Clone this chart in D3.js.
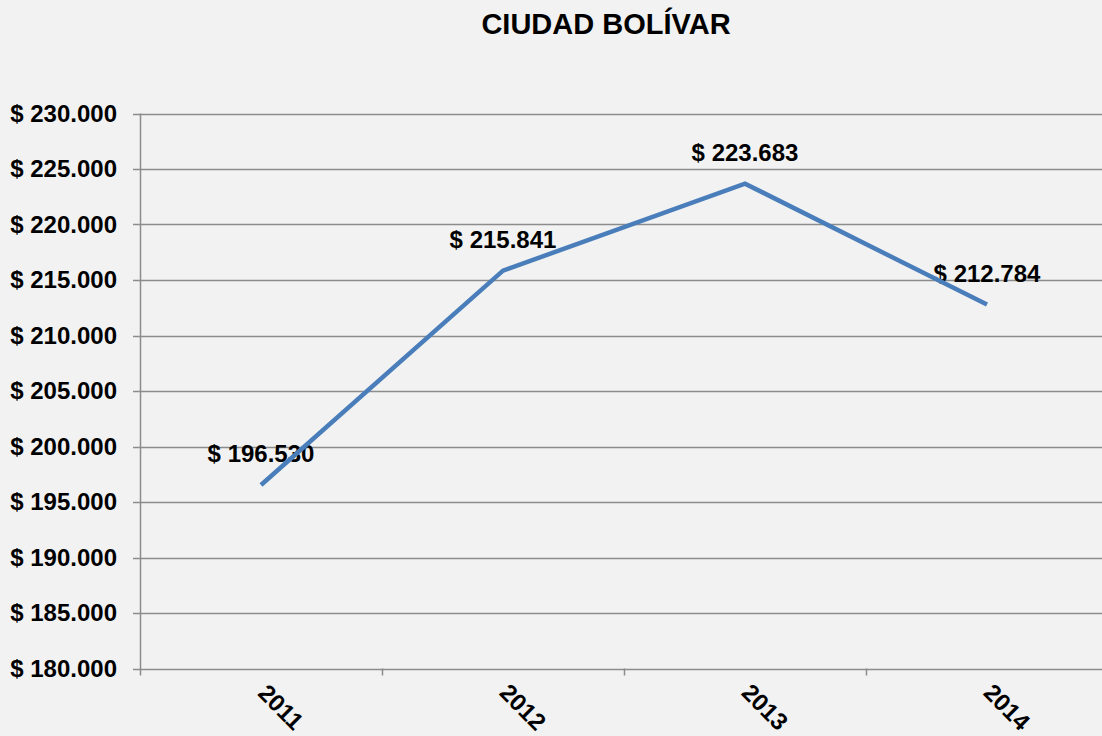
<!DOCTYPE html>
<html>
<head>
<meta charset="utf-8">
<script src="https://cdn.jsdelivr.net/npm/d3@7"></script>
<style>
  html, body { margin: 0; padding: 0; background: #f2f2f2; }
  svg { display: block; font-family: Arial, "Liberation Sans", sans-serif; }
  .tickText { font-size: 24px; font-weight: bold; fill: #000; }
</style>
</head>
<body>
<script>
// chart data
var years = ["2011", "2012", "2013", "2014"];
var values = [196530, 215841, 223683, 212784];
var yTicks = [180000, 185000, 190000, 195000, 200000, 205000, 210000, 215000, 220000, 225000, 230000];
var title = "CIUDAD BOLÍVAR";

var width = 1102, height = 736;
var plotLeft = 140, plotRight = 1108, plotTop = 113.5, plotBottom = 668.5;

var svg = d3.select("body").append("svg")
    .attr("width", width)
    .attr("height", height);

svg.append("rect")
    .attr("width", width)
    .attr("height", height)
    .attr("fill", "#f2f2f2");

//Scales
var x = d3.scaleBand().domain(years).range([plotLeft, plotRight]);
var y = d3.scaleLinear().domain([180000, 230000]).range([plotBottom, plotTop]);

//"$ 196.530" style, dot as thousands separator
var fmt = function (v) {
    return "$ " + d3.format(",")(v).replace(/,/g, ".");
};

//Gridlines
svg.append("g")
    .selectAll("line")
    .data(yTicks)
    .join("line")
    .attr("x1", plotLeft - 7)
    .attr("x2", plotRight)
    .attr("y1", d => Math.round(y(d)) + 0.5)
    .attr("y2", d => Math.round(y(d)) + 0.5)
    .attr("stroke", "#8c8c8c")
    .attr("stroke-width", 1.5);

//Y axis line
svg.append("line")
    .attr("x1", plotLeft + 0.5).attr("x2", plotLeft + 0.5)
    .attr("y1", y(230000)).attr("y2", plotBottom + 7)
    .attr("stroke", "#8c8c8c")
    .attr("stroke-width", 1.5);

//X ticks
svg.append("g")
    .selectAll("line")
    .data(years.slice(1))
    .join("line")
    .attr("x1", d => Math.round(x(d)) + 0.5)
    .attr("x2", d => Math.round(x(d)) + 0.5)
    .attr("y1", plotBottom)
    .attr("y2", plotBottom + 7)
    .attr("stroke", "#8c8c8c")
    .attr("stroke-width", 1.5);

//Y tick labels
svg.append("g")
    .selectAll("text")
    .data(yTicks)
    .join("text")
    .attr("class", "tickText")
    .attr("x", 117)
    .attr("y", d => y(d))
    .attr("dy", "0.35em")
    .attr("text-anchor", "end")
    .text(fmt);

//X tick labels
svg.append("g")
    .selectAll("text")
    .data(years)
    .join("text")
    .attr("class", "tickText")
    .attr("text-anchor", "middle")
    .attr("dy", "0.35em")
    .attr("transform", d => "translate(" + (x(d) + x.bandwidth() / 2 + 20) + "," + 707 + ") rotate(45)")
    .text(d => d);

//Title
svg.append("text")
    .attr("x", 606)
    .attr("y", 23.5)
    .attr("dy", "0.35em")
    .attr("text-anchor", "middle")
    .attr("font-size", "29px")
    .attr("font-weight", "bold")
    .text(title);

//Data labels
svg.append("g")
    .selectAll("text")
    .data(values)
    .join("text")
    .attr("class", "tickText")
    .attr("text-anchor", "middle")
    .attr("x", (d, i) => x(years[i]) + x.bandwidth() / 2)
    .attr("y", d => y(d) - 31)
    .attr("dy", "0.35em")
    .text(fmt);

//Line
var line = d3.line()
    .x((d, i) => x(years[i]) + x.bandwidth() / 2)
    .y(d => y(d));

svg.append("path")
    .datum(values)
    .attr("d", line)
    .attr("fill", "none")
    .attr("stroke", "#4a7ebb")
    .attr("stroke-width", 4.5);
</script>
</body>
</html>
